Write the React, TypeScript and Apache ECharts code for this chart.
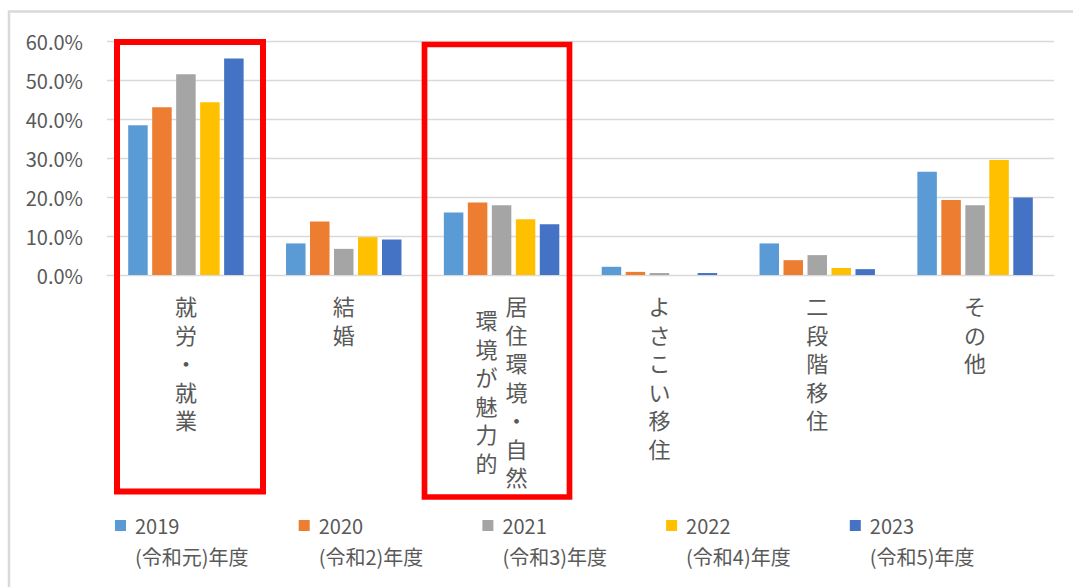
import { useEffect, useRef } from 'react';
import * as echarts from 'echarts';

const CATEGORIES = ['就労・就業', '結婚', '居住環境・自然環境が魅力的', 'よさこい移住', '二段階移住', 'その他'];
const SERIES_NAMES = [
  '2019\n(令和元)年度',
  '2020\n(令和2)年度',
  '2021\n(令和3)年度',
  '2022\n(令和4)年度',
  '2023\n(令和5)年度',
];
// 値は % 表示
const V2019 = [38.4, 8.1, 16.0, 2.1, 8.1, 26.5];
const V2020 = [43.0, 13.7, 18.6, 0.8, 3.8, 19.2];
const V2021 = [51.5, 6.7, 17.9, 0.5, 5.1, 17.9];
const V2022 = [44.3, 9.7, 14.3, 0, 1.8, 29.5];
const V2023 = [55.5, 9.1, 13.0, 0.5, 1.5, 19.9];
const Y_TICKS = [0, 10, 20, 30, 40, 50, 60];

const COLORS = ['#5B9BD5', '#ED7D31', '#A5A5A5', '#FFC000', '#4472C4'];
const FONT = "'Noto Sans CJK JP', 'Noto Sans', sans-serif";
const GRAY = '#595959';
const COL_LEN = 7;

// 縦書き風: 1文字ずつ改行、長いものは2列（右列が先）
function verticalLabel(name: string) {
  const chars = Array.from(name);
  if (chars.length <= COL_LEN) return chars.join('\n');
  const first = chars.slice(0, COL_LEN);
  const second = chars.slice(COL_LEN);
  const lines = ['{s| }'];
  first.forEach((c, i) => {
    lines.push(`{r|${c}}`);
    if (second[i]) lines.push(`{l|${second[i]}}`);
  });
  return lines.join('\n');
}

export default function App() {
  const ref = useRef<HTMLDivElement>(null);

  useEffect(() => {
    if (!ref.current) return;
    const chart = echarts.init(ref.current, undefined, { renderer: 'svg' });
    const values = [V2019, V2020, V2021, V2022, V2023];
    const half = { fontSize: 22, lineHeight: 14.25, width: 52, color: GRAY, fontFamily: FONT };

    chart.setOption({
      animation: false,
      backgroundColor: '#fff',
      grid: { left: 107, right: 19, top: 41, bottom: 312, containLabel: false },
      legend: {
        left: 110,
        top: 474,
        icon: 'rect',
        itemWidth: 11,
        itemHeight: 11,
        itemGap: 13.7,
        data: SERIES_NAMES,
        // 先頭に空行を入れて、マーカーを1行目にそろえる
        formatter: (name: string) =>
          ['{e| }', ...name.split('\n').map((s) => `{t|${s}}`)].join('\n'),
        textStyle: {
          fontSize: 20,
          lineHeight: 31,
          color: GRAY,
          fontFamily: FONT,
          width: 154,
          rich: {
            e: { fontSize: 6, lineHeight: 31 },
            t: { fontSize: 20, lineHeight: 31, color: GRAY, fontFamily: FONT, padding: [0, 0, 0, 4] },
          },
        },
      },
      xAxis: {
        type: 'category',
        data: CATEGORIES,
        axisLine: { lineStyle: { color: '#d9d9d9' } },
        axisTick: { show: false },
        axisLabel: {
          interval: 0,
          margin: 16,
          fontSize: 22,
          lineHeight: 28.5,
          color: GRAY,
          fontFamily: FONT,
          formatter: (v: string) => verticalLabel(v),
          rich: {
            s: { fontSize: 6, lineHeight: 7 },
            r: { ...half, align: 'right' },
            l: { ...half, align: 'left' },
          },
        },
      },
      yAxis: {
        type: 'value',
        min: Y_TICKS[0],
        max: Y_TICKS[Y_TICKS.length - 1],
        interval: Y_TICKS[1] - Y_TICKS[0],
        axisLine: { show: false },
        axisTick: { show: false },
        splitLine: { lineStyle: { color: '#d9d9d9', width: 1.3 } },
        axisLabel: {
          margin: 24,
          fontSize: 20,
          color: GRAY,
          fontFamily: FONT,
          formatter: (v: number) => v.toFixed(1) + '%',
        },
      },
      series: SERIES_NAMES.map((name, i) => ({
        name,
        type: 'bar',
        data: values[i],
        barWidth: 19.5,
        barGap: '23%',
        itemStyle: { color: COLORS[i] },
      })),
      graphic: [
        {
          type: 'rect',
          z: -10,
          shape: { x: 9, y: 11.5, width: 1200, height: 800 },
          style: { fill: 'none', stroke: '#d9d9d9', lineWidth: 2.5 },
        },
        {
          type: 'rect',
          z: 100,
          shape: { x: 117, y: 42, width: 146, height: 449.5 },
          style: { fill: 'none', stroke: '#ff0000', lineWidth: 6 },
        },
        {
          type: 'rect',
          z: 100,
          shape: { x: 424.5, y: 44.5, width: 145, height: 452.5 },
          style: { fill: 'none', stroke: '#ff0000', lineWidth: 5.7 },
        },
      ],
    });

    return () => chart.dispose();
  }, []);

  return (
    <div
      ref={ref}
      style={{ position: 'absolute', left: 0, top: 0, width: 1073, height: 587, background: '#fff' }}
    />
  );
}
